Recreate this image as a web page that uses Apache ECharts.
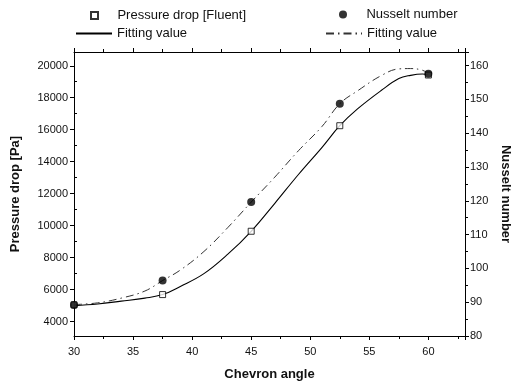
<!DOCTYPE html>
<html>
<head>
<meta charset="utf-8">
<script src="https://cdn.jsdelivr.net/npm/echarts@6/dist/echarts.min.js"></script>
<style>html,body{margin:0;padding:0;background:#fff}#c{width:516px;height:383px}</style>
</head>
<body>
<div id="c"></div>
<script>
// ---- data ----
const pointAngles = [30, 37.5, 45, 52.5, 60];
const pressureDrop = [5050, 5690, 9650, 16250, 19420];
const nusselt = [89.2, 96.4, 119.6, 148.7, 157.6];

const fitAngles = [30, 32, 34, 36, 37.5, 39, 41, 43, 45, 47, 49, 51, 52.5, 54, 56, 57.5, 58.5, 59.5, 60];
const pressureFit = [5000, 5100, 5280, 5470, 5690, 6200, 7000, 8200, 9650, 11400, 13200, 14900, 16250, 17300, 18450, 19200, 19400, 19480, 19420];
const nusseltFit = [89.3, 89.8, 91.2, 93.3, 96.4, 99.5, 105, 112, 119.6, 127, 134.8, 142, 148.7, 152.5, 157, 159, 159.1, 158.6, 157.6];

const xTicks = [30, 35, 40, 45, 50, 55, 60];
const leftLabels = [4000, 6000, 8000, 10000, 12000, 14000, 16000, 18000, 20000];
const leftMinor = [5000, 7000, 9000, 11000, 13000, 15000, 17000, 19000];
const rightLabels = [80, 90, 100, 110, 120, 130, 140, 150, 160];

const pair = (xs, ys) => xs.map((x, i) => [x, ys[i]]);
const FONT = 'Liberation Sans, Arial, sans-serif';

const chart = echarts.init(document.getElementById('c'), null, {renderer: 'canvas'});
const axisLine = {show: true, lineStyle: {color: '#000', width: 1}};
const lbl = {color: '#111', fontSize: 11, fontFamily: FONT};
const legText = {fontSize: 13, fontFamily: FONT, color: '#111'};

chart.setOption({
  animation: false,
  backgroundColor: '#fff',
  grid: {left: 74, right: 51, top: 52, bottom: 47, containLabel: false, outerBoundsMode: 'none'},
  legend: [
    {data: ['Pressure drop [Fluent]'], left: 90, top: 9, padding: 0, itemWidth: 7, itemHeight: 7,
     formatter: n => '    ' + n, textStyle: legText},
    {data: ['Nusselt number'], left: 339, top: 8, padding: 0, itemWidth: 8, itemHeight: 8,
     formatter: n => '    ' + n, textStyle: legText},
    {data: ['fitP'], left: 75, top: 27, padding: 0, itemWidth: 36, itemHeight: 14,
     itemStyle: {opacity: 0}, formatter: () => 'Fitting value', textStyle: legText},
    {data: ['fitN'], left: 325, top: 27, padding: 0, itemWidth: 36, itemHeight: 14,
     itemStyle: {opacity: 0}, formatter: () => 'Fitting value', textStyle: legText}
  ],
  xAxis: [
    {type: 'value', min: 30, max: 63.1, interval: 5, position: 'bottom',
     name: 'Chevron angle', nameLocation: 'middle', nameGap: 32,
     nameTextStyle: {fontSize: 13, fontWeight: 'bold', fontFamily: FONT, color: '#111'},
     axisLine, splitLine: {show: false},
     axisTick: {show: true, inside: false, length: 4, lineStyle: {color: '#000'}},
     minorTick: {show: true, splitNumber: 2, length: 3, lineStyle: {color: '#000'}},
     axisLabel: {...lbl, showMaxLabel: false, margin: 10, formatter: v => xTicks.includes(v) ? String(v) : ''}},
    {type: 'value', min: 30, max: 63.1, interval: 5, position: 'top',
     axisLine, splitLine: {show: false},
     axisTick: {show: true, inside: false, length: 4, lineStyle: {color: '#000'}},
     minorTick: {show: true, splitNumber: 2, length: 3, lineStyle: {color: '#000'}},
     axisLabel: {show: false}}
  ],
  yAxis: [
    {type: 'value', min: 3100, max: 20860, position: 'left',
     name: 'Pressure drop [Pa]', nameLocation: 'middle', nameGap: 52, nameRotate: 90,
     nameTextStyle: {fontSize: 13, fontWeight: 'bold', fontFamily: FONT, color: '#111'},
     axisLine, splitLine: {show: false},
     axisTick: {show: true, length: 4, customValues: leftLabels, lineStyle: {color: '#000'}},
     axisLabel: {...lbl, margin: 6, customValues: leftLabels, formatter: v => String(v)}},
    {type: 'value', min: 3100, max: 20860, position: 'left',
     axisLine: {show: false}, splitLine: {show: false},
     axisTick: {show: true, inside: true, length: 3, customValues: leftMinor, lineStyle: {color: '#000'}},
     axisLabel: {show: false, customValues: leftMinor}},
    {type: 'value', min: 80, max: 164, interval: 10, position: 'right',
     name: 'Nusselt number', nameLocation: 'middle', nameGap: 33, nameRotate: -90,
     nameTextStyle: {fontSize: 13, fontWeight: 'bold', fontFamily: FONT, color: '#111'},
     axisLine, splitLine: {show: false},
     axisTick: {show: true, length: 4, lineStyle: {color: '#000'}},
     minorTick: {show: true, splitNumber: 2, length: 3, lineStyle: {color: '#000'}},
     axisLabel: {...lbl, margin: 5, showMaxLabel: false, formatter: v => rightLabels.includes(v) ? String(v) : ''}}
  ],
  series: [
    {name: 'fitP', type: 'line', xAxisIndex: 0, yAxisIndex: 0, data: pair(fitAngles, pressureFit),
     smooth: 0.4, symbol: 'none', lineStyle: {color: '#000', width: 1.1}, itemStyle: {color: '#000'}, z: 2},
    {name: 'fitN', type: 'line', xAxisIndex: 0, yAxisIndex: 2, data: pair(fitAngles, nusseltFit),
     smooth: 0.4, symbol: 'none', lineStyle: {color: '#333', width: 1, type: [8, 4, 1.5, 4]}, itemStyle: {color: '#333'}, z: 2},
    {name: 'Pressure drop [Fluent]', type: 'scatter', xAxisIndex: 0, yAxisIndex: 0, data: pair(pointAngles, pressureDrop),
     symbol: 'rect', symbolSize: 6, itemStyle: {color: '#fff', borderColor: '#000', borderWidth: 1}, z: 3},
    {name: 'Nusselt number', type: 'scatter', xAxisIndex: 0, yAxisIndex: 2, data: pair(pointAngles, nusselt),
     symbol: 'circle', symbolSize: 8, itemStyle: {color: '#000'}, z: 4}
  ]
});
</script>
</body>
</html>
